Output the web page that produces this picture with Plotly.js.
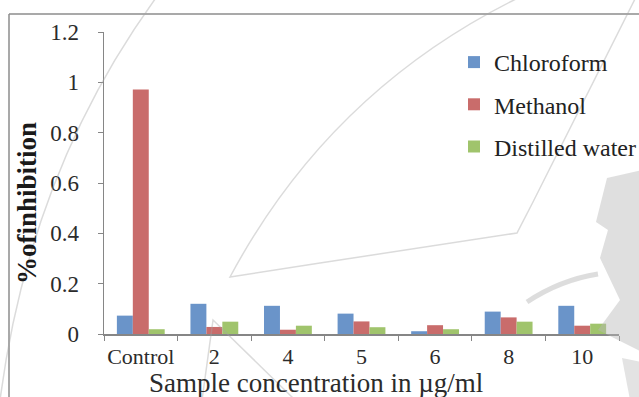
<!DOCTYPE html>
<html>
<head>
<meta charset="utf-8">
<script src="https://cdn.plot.ly/plotly-3.0.1.min.js"></script>
<style>
  html, body { margin: 0; padding: 0; background: #ffffff; }
  #chart { width: 639px; height: 397px; }
</style>
</head>
<body>
<div id="chart"></div>
<script>
// Sample concentrations (x categories)
const categories = ['Control', '2', '4', '5', '6', '8', '10'];

// % of inhibition for each solvent extract
const chloroform    = [0.073, 0.120, 0.112, 0.081, 0.011, 0.089, 0.112];
const methanol      = [0.972, 0.028, 0.017, 0.050, 0.035, 0.066, 0.033];
const distilledWater = [0.019, 0.049, 0.033, 0.027, 0.019, 0.049, 0.041];

const seriesNames = ['Chloroform', 'Methanol', 'Distilled water'];
const yTicks = [0, 0.2, 0.4, 0.6, 0.8, 1, 1.2];

// Figure geometry
const W = 639, H = 397;
const M = { l: 104, r: 20, t: 32, b: 63, autoexpand: false };
const PW = W - M.l - M.r, PH = H - M.t - M.b;
const px = x => (x - M.l) / PW;          // pixel x -> paper
const py = y => (H - M.b - y) / PH;      // pixel y -> paper

// Build a paper-space SVG path from pixel-space commands
function pathPx(cmds) {
  return cmds.map(c => {
    if (typeof c === 'string') return c;
    return px(c[0]).toFixed(4) + ',' + py(c[1]).toFixed(4);
  }).join(' ');
}

const serif = '"Liberation Serif", "Times New Roman", serif';
const colors = ['#6a94c9', '#c96c6b', '#a0c46c'];
const data = [chloroform, methanol, distilledWater].map((vals, i) => ({
  type: 'bar',
  x: categories,
  y: vals,
  name: seriesNames[i],
  legendgroup: 'g' + i,
  marker: { color: colors[i], line: { width: 0 } },
  hoverinfo: 'x+y+name'
}));

const wmLine = { color: 'rgba(165,165,165,0.4)', width: 1.5 };
const shapes = [
  // frame
  { type: 'line', xref: 'paper', yref: 'paper', x0: px(9), x1: px(9), y0: py(14), y1: py(400),
    line: { color: '#8c8c8c', width: 1.5 } },
  { type: 'line', xref: 'paper', yref: 'paper', x0: px(9), x1: px(642), y0: py(14), y1: py(14),
    line: { color: '#8c8c8c', width: 1.5 } },
  // background sketch lines
  { type: 'path', xref: 'paper', yref: 'paper', layer: 'above', line: wmLine,
    path: pathPx(['M', [158, -5], 'Q', [30, 170], [0, 400]]) },
  { type: 'path', xref: 'paper', yref: 'paper', layer: 'above', line: wmLine,
    path: pathPx(['M', [520, -3], 'Q', [330, 90], [230, 277], 'L', [320, 263], 'L', [517, 233],
                  'L', [533, 202], 'L', [636, -3]]) },
  { type: 'path', xref: 'paper', yref: 'paper', layer: 'above', line: wmLine,
    path: pathPx(['M', [202, 400], 'L', [213, 320], 'L', [295, 400]]) },
  { type: 'path', xref: 'paper', yref: 'paper', layer: 'above',
    line: { color: 'rgba(180,180,180,0.45)', width: 5 },
    path: pathPx(['M', [527, 302], 'Q', [560, 280], [598, 274]]) },
  { type: 'path', xref: 'paper', yref: 'paper', layer: 'above',
    fillcolor: 'rgba(185,185,185,0.45)', line: { width: 0 },
    path: pathPx(['M', [607, 178], 'L', [642, 170], 'L', [642, 352], 'L', [598, 330],
                  'L', [620, 300], 'L', [600, 258], 'L', [608, 230], 'L', [596, 222], 'Z']) },
  { type: 'path', xref: 'paper', yref: 'paper', layer: 'above',
    fillcolor: 'rgba(185,185,185,0.4)', line: { width: 0 },
    path: pathPx(['M', [622, 358], 'L', [642, 362], 'L', [642, 400], 'L', [630, 400], 'Z']) }
];

const layout = {
  width: W, height: H,
  margin: M,
  paper_bgcolor: '#ffffff',
  plot_bgcolor: '#ffffff',
  font: { family: serif, size: 22, color: '#2b2b2b' },
  barmode: 'group',
  bargap: 0.35,
  bargroupgap: 0,
  showlegend: true,
  legend: {
    x: px(454), y: py(40), xanchor: 'left', yanchor: 'top',
    bgcolor: 'rgba(0,0,0,0)',
    font: { family: serif, size: 24, color: '#222222' },
    traceorder: 'grouped', tracegroupgap: 8
  },
  xaxis: {
    type: 'category',
    showline: true, linecolor: '#868686', linewidth: 1.5,
    ticks: 'outside', tickson: 'boundaries', ticklen: 5, tickcolor: '#868686',
    showgrid: false, zeroline: false,
    tickangle: 0,
    tickfont: { family: serif, size: 22, color: '#2b2b2b' },
    ticklabelstandoff: 2
  },
  yaxis: {
    range: [0, 1.2],
    tickvals: yTicks,
    showline: true, linecolor: '#868686', linewidth: 1.5,
    ticks: 'outside', ticklen: 5, tickcolor: '#868686',
    showgrid: false, zeroline: false,
    tickfont: { family: serif, size: 23, color: '#2b2b2b' },
    ticklabelstandoff: 14
  },
  annotations: [
    { text: 'Sample concentration in µg/ml', xref: 'paper', yref: 'paper',
      x: px(147), y: py(383), xanchor: 'left', yanchor: 'middle', showarrow: false,
      font: { family: serif, size: 27, color: '#2b2b2b' } },
    { text: '<b>%ofinhibition</b>', xref: 'paper', yref: 'paper', textangle: -90,
      x: px(27), y: py(203), xanchor: 'center', yanchor: 'middle', showarrow: false,
      font: { family: serif, size: 27, color: '#1a1a1a' } }
  ],
  shapes: shapes
};

Plotly.newPlot('chart', data, layout, { displayModeBar: false, staticPlot: true });
</script>
</body>
</html>
